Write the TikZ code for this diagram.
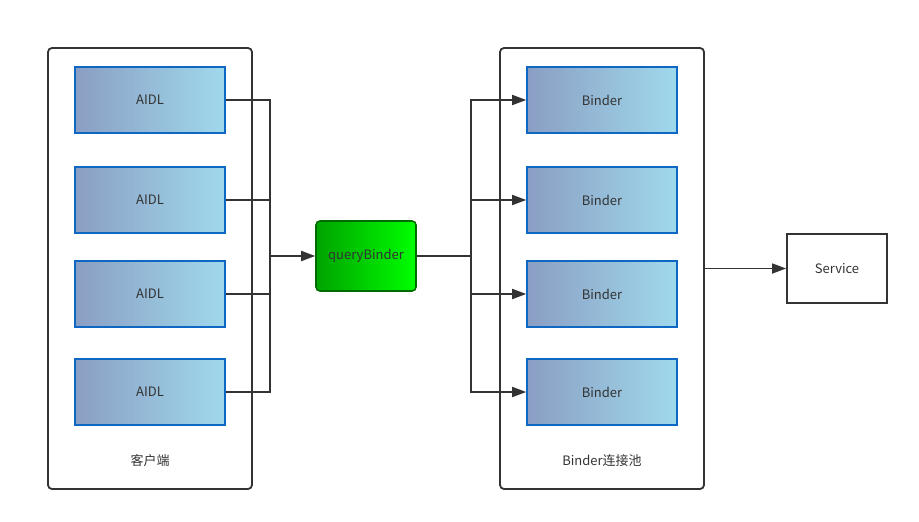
\documentclass[tikz,border=0pt]{standalone}
\usepackage{fontspec}
\setmainfont{Noto Sans CJK SC}
\usetikzlibrary{arrows.meta}
\definecolor{linec}{HTML}{333333}
\definecolor{bluebd}{HTML}{0F67C4}
\definecolor{gl}{HTML}{8A9EC3}
\definecolor{gr}{HTML}{A0D9EC}
\definecolor{gnl}{HTML}{00A300}
\definecolor{gnr}{HTML}{00FF00}
\definecolor{gnbd}{HTML}{006B00}
\tikzset{
  base/.style={font=\fontsize{13}{15}\selectfont, text=linec, inner sep=0pt},
  container/.style={base, draw=linec, line width=1.8pt, rounded corners=4pt, minimum width=204pt, minimum height=441pt},
  bluebox/.style={base, draw=bluebd, line width=1.6pt, left color=gl, right color=gr, minimum width=150pt, minimum height=66pt},
  greenbox/.style={base, draw=gnbd, line width=1.6pt, rounded corners=4pt, left color=gnl, right color=gnr, minimum width=100pt, minimum height=70pt},
  servicebox/.style={base, draw=linec, line width=1.8pt, fill=white, minimum width=100pt, minimum height=69pt},
  conn/.style={draw=linec, line width=1.7pt},
  arr/.style={conn, -{Triangle[length=14pt,width=10pt]}},
  lbl/.style={base}
}
\begin{document}
\begin{tikzpicture}[x=1pt,y=-1pt]
\useasboundingbox (0,0) rectangle (919,522);
\node[container] (cc) at (150,268.5) {};
\node[container] (bc) at (602,268.5) {};
\node[lbl] (ccl) at (150,461) {客户端};
\node[lbl] (bcl) at (602,461) {Binder连接池};
\foreach \i/\y in {1/100,2/200,3/294,4/392}{
  \node[bluebox] (a\i) at (150,\y) {AIDL};
  \node[bluebox] (b\i) at (602,\y) {Binder};
}
\node[greenbox] (qb) at (366,256) {queryBinder};
\node[servicebox] (sv) at (837,268.5) {Service};
\coordinate (jL) at (270,256);
\coordinate (jR) at (471,256);
\foreach \i in {1,2,3,4}{
  \draw[conn] (a\i.east) -| (jL);
  \draw[arr] (jR) |- (b\i.west);
}
\draw[arr] (jL) -- (qb.west);
\draw[conn] (qb.east) -- (jR);
\draw[arr] (bc.east |- sv.west) -- (sv.west);
\end{tikzpicture}
\end{document}
